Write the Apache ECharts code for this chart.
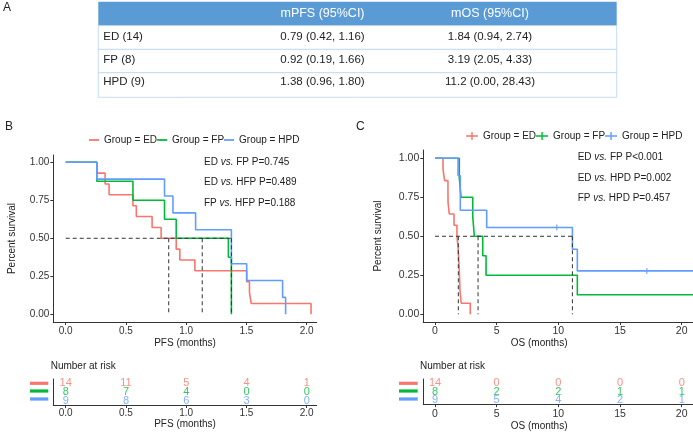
<!DOCTYPE html>
<html><head><meta charset="utf-8">
<script src="https://cdn.jsdelivr.net/npm/echarts@6/dist/echarts.min.js"></script>
<style>html,body{margin:0;padding:0;background:#fff}#c{width:693px;height:432px}</style>
</head><body><div id="c"></div>
<script>
// ---------- data ----------
const groups = ['ED', 'FP', 'HPD'];
const groupNames = ['Group = ED', 'Group = FP', 'Group = HPD'];
const colors = ['#F8766D', '#00BA38', '#619CFF'];

const tableHead = ['mPFS (95%CI)', 'mOS (95%CI)'];
const tableRows = ['ED (14)', 'FP (8)', 'HPD (9)'];
const mPFS = ['0.79 (0.42, 1.16)', '0.92 (0.19, 1.66)', '1.38 (0.96, 1.80)'];
const mOS = ['1.84 (0.94, 2.74)', '3.19 (2.05, 4.33)', '11.2 (0.00, 28.43)'];

// PFS Kaplan-Meier steps [time, survival]
const pfsED = [[0,1],[0.258,0.929],[0.327,0.857],[0.36,0.786],[0.558,0.714],[0.586,0.643],[0.717,0.571],[0.792,0.5],[0.917,0.429],[0.947,0.357],[1.072,0.286],[1.502,0.214],[1.525,0.143],[1.54,0.071],[2.036,0]];
const pfsFP = [[0,1],[0.258,0.875],[0.558,0.75],[0.82,0.625],[0.917,0.5],[1.35,0.375],[1.375,0]];
const pfsHPD = [[0,1],[0.258,0.889],[0.82,0.778],[0.89,0.667],[1.078,0.556],[1.375,0.333],[1.502,0.222],[1.80,0.111],[1.825,0]];
const pfsMedians = [0.855, 1.133, 1.375];
const pfsTicks = [0, 0.5, 1, 1.5, 2];
const pfsRiskED = [14, 11, 5, 4, 1];
const pfsRiskFP = [8, 7, 4, 0, 0];
const pfsRiskHPD = [9, 8, 6, 3, 0];
const pfsP = [['ED', 'FP P=0.745'], ['ED', 'HFP P=0.489'], ['FP', 'HFP P=0.188']];

// OS Kaplan-Meier steps
const osED = [[0,1],[0.65,0.929],[0.78,0.857],[1.05,0.786],[1.06,0.714],[1.16,0.643],[1.54,0.571],[1.78,0.5],[1.87,0.429],[1.92,0.357],[1.97,0.286],[2.0,0.214],[2.03,0.143],[2.13,0.071],[2.86,0]];
const osFP = [[0,1],[1.97,0.875],[2.11,0.75],[3.06,0.625],[3.19,0.5],[3.87,0.375],[4.14,0.25],[11.54,0.125],[21,0.125]];
const osHPD = [[0,1],[1.87,0.889],[2.05,0.667],[4.19,0.556],[11.14,0.417],[11.54,0.278],[21,0.278]];
const osCensorHPD = [[9.87,0.556],[17.17,0.278]];
const osMedians = [1.89, 3.49, 11.14];
const osTicks = [0, 5, 10, 15, 20];
const osRiskED = [14, 0, 0, 0, 0];
const osRiskFP = [8, 2, 2, 1, 1];
const osRiskHPD = [9, 5, 4, 2, 1];
const osP = [['ED', 'FP P<0.001'], ['ED', 'HPD P=0.002'], ['FP', 'HPD P=0.457']];

const survTicks = [0, 0.25, 0.5, 0.75, 1];

// ---------- helpers ----------
const FONT = 'Liberation Sans, Arial, Helvetica, sans-serif';
const AX = '#333';
function xAx(grid, min, max, ticks, fmt, name, nameGap, margin, pad, fs) {
  return {
    gridIndex: grid, type: 'value', min: min, max: max,
    axisLine: { show: true, onZero: false, lineStyle: { color: AX, width: 1 } },
    axisTick: { show: true, length: 3, customValues: ticks, lineStyle: { color: AX } },
    axisLabel: { customValues: ticks, formatter: fmt, margin: margin, fontSize: fs, color: '#333', fontFamily: FONT },
    splitLine: { show: false },
    name: name, nameLocation: 'middle', nameGap: nameGap,
    nameTextStyle: { fontSize: 10, color: '#222', fontFamily: FONT, padding: pad }
  };
}
function yAxMain(grid, min, max, gap, fs) {
  return {
    gridIndex: grid, type: 'value', min: min, max: max,
    axisLine: { show: true, onZero: false, lineStyle: { color: AX, width: 1 } },
    axisTick: { show: true, length: 3, customValues: survTicks, lineStyle: { color: AX } },
    axisLabel: { customValues: survTicks, formatter: v => v.toFixed(2), margin: 4, fontSize: fs, color: '#333', fontFamily: FONT },
    splitLine: { show: false },
    name: 'Percent survival', nameLocation: 'middle', nameGap: gap,
    nameTextStyle: { fontSize: 10, color: '#222', fontFamily: FONT }
  };
}
function yAxRisk(grid) {
  return {
    gridIndex: grid, type: 'category', inverse: true, data: groups,
    axisLine: { show: true, onZero: false, lineStyle: { color: AX, width: 1 } },
    axisTick: { show: false },
    axisLabel: { show: false },
    splitLine: { show: false }
  };
}
function curve(name, data, color, xi) {
  return { name: name, type: 'line', step: 'end', data: data, xAxisIndex: xi, yAxisIndex: xi,
    symbol: 'none', showSymbol: false, lineStyle: { color: color, width: 1.6 }, itemStyle: { color: color }, z: 2, silent: true };
}
function dashed(data, xi) {
  return { type: 'line', data: data, xAxisIndex: xi, yAxisIndex: xi, symbol: 'none', showSymbol: false,
    lineStyle: { color: '#333', width: 1, type: [4, 3] }, z: 3, silent: true };
}
function medianSeries(meds, xi) {
  const out = [dashed([[0, 0.5], [Math.max.apply(null, meds), 0.5]], xi)];
  meds.forEach(m => out.push(dashed([[m, 0.5], [m, 0]], xi)));
  return out;
}
function risk(ticks, vals, gi, row, color) {
  return { type: 'scatter', xAxisIndex: gi, yAxisIndex: gi, symbolSize: 1,
    itemStyle: { color: 'rgba(0,0,0,0)' },
    data: ticks.map((t, i) => [t, row, vals[i]]),
    label: { show: true, position: 'inside', formatter: p => String(p.value[2]), color: color, fontSize: 11, fontFamily: FONT },
    labelLayout: { hideOverlap: false },
    silent: true };
}
function riskRows(ticks, arrs, gi) {
  return arrs.map((a, i) => risk(ticks, a, gi, i, colors[i]));
}
function pText(x, y, pair) {
  return { type: 'text', x: x, y: y, silent: true, style: {
    text: '{n|' + pair[0] + ' }{i|vs.}{n| ' + pair[1] + '}', verticalAlign: 'middle',
    rich: { n: { fontSize: 10, fontFamily: FONT, fill: '#222' }, i: { fontSize: 10, fontFamily: FONT, fontStyle: 'italic', fill: '#222' } } } };
}
function txt(x, y, s, size, fill, align, extra) {
  return { type: 'text', x: x, y: y, silent: true, style: Object.assign({ text: s, fontSize: size, fontFamily: FONT, fill: fill, align: align || 'left', verticalAlign: 'middle' }, extra || {}) };
}

// ---------- table / annotation graphics ----------
const tblL = 98.3, tblR = 616.7, headTop = 1.7, headBot = 25.7;
const rowLines = [49.3, 72.7, 97.3];
const rowTextY = [37.3, 60, 81.5];
const colX = [322.5, 490];
const graphics = [];
graphics.push({ type: 'rect', shape: { x: tblL, y: headTop, width: tblR - tblL, height: headBot - headTop }, style: { fill: '#5B9BD5' }, silent: true });
graphics.push({ type: 'rect', shape: { x: tblL, y: headBot, width: tblR - tblL, height: rowLines[2] - headBot }, style: { fill: 'none', stroke: '#C9DDF0', lineWidth: 1 }, silent: true });
rowLines.slice(0, 2).forEach(y => graphics.push({ type: 'line', shape: { x1: tblL, y1: y, x2: tblR, y2: y }, style: { stroke: '#BDD7EE', lineWidth: 1 }, silent: true }));
tableHead.forEach((h, i) => graphics.push(txt(colX[i], 14, h, 12.5, '#fff', 'center')));
tableRows.forEach((r, i) => {
  graphics.push(txt(103.3, rowTextY[i], r, 11.5, '#222', 'left'));
  graphics.push(txt(colX[0], rowTextY[i], mPFS[i], 11.5, '#222', 'center'));
  graphics.push(txt(colX[1], rowTextY[i], mOS[i], 11.5, '#222', 'center'));
});
graphics.push(txt(3, 8, 'A', 12, '#222'));
graphics.push(txt(5, 127, 'B', 12, '#222'));
graphics.push(txt(356, 127, 'C', 12, '#222'));
graphics.push(txt(50.7, 366, 'Number at risk', 10, '#222'));
graphics.push(txt(420, 366, 'Number at risk', 10, '#222'));
[162.7, 182.7, 203.3].forEach((y, i) => graphics.push(pText(204, y, pfsP[i])));
[157.7, 178.3, 198.3].forEach((y, i) => graphics.push(pText(577.7, y, osP[i])));
// risk-table colour keys (strata swatches)
const keyRowsY = [383.3, 391, 399];
[[30, 48.3], [399, 417.7]].forEach(k => keyRowsY.forEach((y, i) =>
  graphics.push({ type: 'rect', shape: { x: k[0], y: y - 1.6, width: k[1] - k[0], height: 3.2 }, style: { fill: colors[i] }, silent: true })));

// ---------- option ----------
const series = [];
[pfsED, pfsFP, pfsHPD].forEach((d, i) => series.push(curve(groupNames[i], d, colors[i], 0)));
medianSeries(pfsMedians, 0).forEach(s => series.push(s));
[osED, osFP, osHPD].forEach((d, i) => series.push(curve(groupNames[i], d, colors[i], 2)));
medianSeries(osMedians, 2).forEach(s => series.push(s));
series.push({ type: 'scatter', xAxisIndex: 2, yAxisIndex: 2, data: osCensorHPD, symbol: 'rect', symbolSize: [1.3, 6],
  itemStyle: { color: colors[2] }, z: 4, silent: true });
riskRows(pfsTicks, [pfsRiskED, pfsRiskFP, pfsRiskHPD], 1).forEach(s => series.push(s));
riskRows(osTicks, [osRiskED, osRiskFP, osRiskHPD], 3).forEach(s => series.push(s));

const crossIcon = 'path://M0,3.3h12v1.4h-12z M5.3,0h1.4v8h-1.4z';
const option = {
  animation: false,
  backgroundColor: '#fff',
  textStyle: { fontFamily: FONT },
  grid: [
    { left: 53.3, top: 155, width: 263.4, height: 167 },
    { left: 53.3, top: 379, width: 263.4, height: 26 },
    { left: 423.3, top: 150, width: 269.7, height: 172 },
    { left: 423.3, top: 379, width: 269.7, height: 26 }
  ],
  xAxis: [
    xAx(0, -0.103, 2.083, pfsTicks, v => v.toFixed(1), 'PFS (months)', 16, 4, 0, 10),
    xAx(1, -0.103, 2.083, pfsTicks, v => v.toFixed(1), 'PFS (months)', 12, 3, 0, 10),
    xAx(2, -0.949, 20.916, osTicks, v => String(v), 'OS (months)', 16, 4, [0, 38, 0, 0], 10.5),
    xAx(3, -0.949, 20.916, osTicks, v => String(v), 'OS (months)', 16, 5, [0, 38, 0, 0], 10.5)
  ],
  yAxis: [
    yAxMain(0, -0.0507, 1.048, 36, 10),
    yAxRisk(1),
    yAxMain(2, -0.0494, 1.053, 40, 10.5),
    yAxRisk(3)
  ],
  legend: [
    { left: 84, top: 130, itemWidth: 10, itemHeight: 1.8, itemGap: 0, selectedMode: false,
      data: groupNames.map(n => ({ name: n, icon: 'rect' })),
      textStyle: { fontSize: 10, color: '#222', fontFamily: FONT } },
    { left: 461, top: 126, itemWidth: 12, itemHeight: 8, itemGap: 0, selectedMode: false,
      data: groupNames.map(n => ({ name: n, icon: crossIcon })),
      textStyle: { fontSize: 10, color: '#222', fontFamily: FONT } }
  ],
  graphic: graphics,
  series: series
};
const chart = echarts.init(document.getElementById('c'), null, { renderer: 'canvas' });
chart.setOption(option);
</script>
</body></html>
